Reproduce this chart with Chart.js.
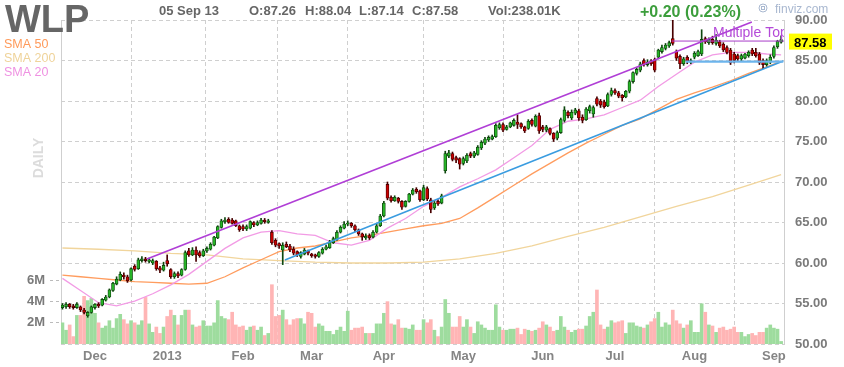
<!DOCTYPE html>
<html>
<head>
<meta charset="utf-8">
<title>WLP daily</title>
<script src="https://cdn.jsdelivr.net/npm/chart.js@4.4.0/dist/chart.umd.min.js"></script>
<style>
html, body { margin: 0; padding: 0; background: #fff; }
#wrap { position: relative; width: 844px; height: 367px; }
</style>
</head>
<body>
<div id="wrap"><canvas id="myChart" width="844" height="367"></canvas></div>
<script>
// daily candles, 19 Nov 2012 .. 05 Sep 2013 (index = trading day)
var opens = [
  54.5,54.6,54.9,54.7,54.5,54.6,54.2,53.5,53.9,54.5, 54.9,54.8,55.4,55.8,56.6,57.4,57.9,58.5,58.3,57.9,
  59.6,59.3,60.3,60.5,60.2,60.0,60.2,59.4,59.1,60.3, 59.2,58.3,58.7,58.5,59.2,61.5,61.0,61.6,61.3,60.9,
  61.5,61.7,62.2,63.1,64.4,65.1,65.4,65.3,65.2,64.6, 64.5,64.2,64.3,65.0,64.7,64.9,65.3,65.0,63.8,62.8,
  62.4,61.6,62.3,62.1,61.7,61.4,60.8,61.1,61.5,61.1, 61.0,60.8,61.2,61.7,61.9,62.5,62.9,63.8,64.3,64.8,
  64.9,64.6,64.1,63.6,63.1,63.4,63.2,63.8,64.6,65.8, 69.7,68.1,67.7,68.0,67.6,67.0,67.6,68.5,69.1,68.9,
  67.8,69.2,67.8,66.8,67.6,67.4,71.4,73.2,73.5,73.0, 72.9,72.3,72.6,73.5,73.2,73.4,74.2,74.8,75.2,75.3,
  75.6,76.7,77.1,76.5,76.8,77.0,77.4,77.2,76.8,76.6, 77.6,76.9,78.2,76.8,76.4,76.6,76.0,75.4,76.1,77.6,
  78.6,77.9,78.5,78.8,78.0,77.7,78.8,78.4,80.3,80.0, 79.9,79.4,80.8,81.3,81.0,80.7,80.5,81.2,82.4,83.4,
  83.8,85.0,84.5,84.9,85.1,85.4,86.1,86.5,86.8,87.7, 86.1,85.5,84.6,85.4,84.8,85.4,85.6,85.8,87.7,87.2,
  87.6,87.1,87.3,87.0,86.6,86.3,85.8,85.6,85.2,85.3, 85.6,86.3,86.0,85.8,85.0,84.5,84.8,85.5,86.7,87.26
];
var highs = [
  55.0,55.1,55.0,54.9,55.1,54.7,54.4,54.0,54.7,55.0, 55.1,55.6,56.0,56.8,57.6,58.3,58.9,58.8,58.5,59.4,
  59.8,60.6,60.8,60.7,60.6,60.5,60.3,59.6,60.1,61.0, 59.3,58.9,58.9,59.3,61.5,61.8,61.9,62.0,61.5,61.7,
  62.0,62.5,63.3,64.6,65.4,65.6,65.6,65.5,65.3,64.7, 64.7,64.7,65.2,65.1,65.2,65.5,65.5,65.4,64.0,63.0,
  62.5,62.5,62.6,62.3,62.0,61.5,61.4,61.8,61.6,61.2, 61.1,61.4,61.9,62.2,62.8,63.2,64.0,64.6,65.1,65.2,
  65.0,64.7,64.2,63.7,63.6,63.6,64.0,64.8,66.0,67.6, 70.0,68.3,68.3,68.1,67.7,67.7,68.6,69.2,69.3,69.0,
  69.6,69.4,68.0,67.6,67.8,68.5,73.8,73.9,73.7,73.2, 73.0,73.1,73.5,73.7,73.8,74.5,75.1,75.5,75.7,75.8,
  77.2,77.3,77.3,77.0,77.4,77.8,78.3,77.3,76.9,77.7, 77.8,78.3,78.5,77.0,77.0,76.7,76.1,76.3,77.9,79.3,
  78.8,78.9,79.1,79.0,78.3,79.2,79.5,79.4,80.5,80.2, 80.1,81.0,81.6,81.5,81.2,80.8,81.3,82.6,83.6,84.1,
  84.8,85.2,85.1,85.1,85.3,86.4,86.9,87.1,87.4,90.2, 86.3,85.7,85.4,85.6,85.2,86.1,86.3,88.8,87.9,87.8,
  88.0,88.2,87.5,87.2,86.8,86.5,86.0,85.8,85.8,85.9, 86.2,86.5,86.5,86.0,85.2,85.2,85.7,86.8,87.5,88.04
];
var lows = [
  54.3,54.4,54.4,54.3,54.4,54.0,53.7,53.3,53.8,54.3, 54.5,54.7,55.3,55.7,56.5,57.3,57.8,58.0,57.6,57.8,
  59.0,59.2,60.1,60.1,60.0,59.8,59.1,58.8,59.0,59.6, 58.1,58.1,58.2,58.4,59.1,60.8,60.9,60.2,60.7,60.8,
  61.3,61.6,62.1,63.0,64.3,64.9,64.9,64.8,64.5,63.9, 64.0,64.0,64.2,64.5,64.6,64.8,64.9,64.9,62.3,62.0,
  61.8,59.8,61.9,61.4,61.0,60.8,60.6,61.0,61.0,60.7, 60.6,60.7,61.1,61.6,61.8,62.4,62.8,63.7,64.2,64.6,
  64.4,63.9,63.4,62.8,62.9,62.9,63.1,63.7,64.5,65.7, 67.8,67.5,67.6,67.4,66.6,66.9,67.5,68.4,68.6,67.6,
  67.7,67.7,66.2,66.6,67.1,67.3,71.1,73.0,72.6,72.4, 71.6,72.1,72.4,73.0,73.0,73.3,74.0,74.6,75.0,75.2,
  75.5,76.5,76.2,76.4,76.7,76.9,76.6,76.6,76.1,76.5, 76.9,76.8,76.0,76.2,76.2,75.8,75.0,75.2,76.0,77.4,
  77.9,77.7,78.3,77.6,77.3,77.6,78.5,78.0,79.4,79.2, 79.1,79.3,80.6,80.8,80.4,80.0,80.4,81.0,82.2,83.2,
  83.6,84.3,84.3,84.4,83.6,85.2,85.9,86.3,86.6,86.9, 85.0,84.0,84.4,84.6,84.6,85.2,85.5,85.6,87.1,87.0,
  87.0,86.9,86.6,86.1,85.8,84.5,84.7,85.0,85.0,85.2, 85.4,85.6,85.4,84.5,84.0,84.3,84.6,85.3,86.5,87.14
];
var closes = [
  54.8,54.9,54.6,54.5,54.9,54.2,53.9,53.9,54.6,54.9, 54.7,55.5,55.8,56.7,57.5,58.0,58.6,58.3,57.8,59.3,
  59.2,60.4,60.5,60.3,60.4,60.3,59.3,59.1,59.7,59.9, 58.3,58.7,58.4,59.2,61.3,61.0,61.6,61.0,60.9,61.5,
  61.8,62.3,63.2,64.5,65.2,65.3,65.0,64.9,64.6,64.1, 64.2,64.5,65.1,64.7,65.0,65.3,65.1,65.2,62.5,62.2,
  62.1,62.2,62.0,61.6,61.2,61.0,61.3,61.6,61.2,60.9, 60.8,61.3,61.7,62.0,62.6,63.0,63.8,64.4,64.8,64.9,
  64.6,64.1,63.6,63.2,63.3,63.1,63.8,64.6,65.8,67.4, 68.0,67.7,68.1,67.6,66.9,67.6,68.5,69.0,68.8,67.8,
  69.3,67.9,66.6,67.4,67.3,68.3,73.5,73.6,72.8,72.7, 72.2,72.9,73.3,73.2,73.6,74.3,74.9,75.3,75.5,75.6,
  77.0,77.1,76.4,76.8,77.3,77.6,77.1,76.8,76.3,77.5, 77.1,78.1,76.3,76.5,76.8,76.0,75.3,76.1,77.7,78.9,
  78.2,78.6,78.9,77.9,77.6,79.0,79.3,79.2,79.6,79.5, 79.3,80.8,81.3,81.0,80.6,80.4,81.2,82.4,83.5,83.9,
  84.6,84.5,84.8,84.6,83.8,86.3,86.6,86.9,87.2,87.1, 85.3,84.6,85.2,84.9,85.0,85.9,86.1,87.6,87.3,87.6,
  87.2,87.5,86.8,86.3,86.0,84.7,85.0,85.2,85.6,85.8, 86.0,85.8,85.6,84.7,84.5,85.0,85.4,86.6,87.4,87.58
];
// volume in millions of shares
var volumes = [
  2.0,1.3,1.8,0.7,2.7,2.7,4.5,4.1,4.3,2.9, 2.0,1.5,1.7,2.2,1.5,2.4,2.8,2.3,1.9,2.2,
  2.0,1.8,2.2,4.4,1.9,1.1,1.6,1.0,1.6,2.6, 3.2,2.7,1.8,2.7,3.2,3.2,1.8,1.6,1.7,2.2,
  1.7,1.7,2.0,4.1,2.6,2.4,2.3,3.0,1.8,1.6, 1.7,1.3,1.6,1.7,1.3,1.6,0.8,1.0,5.6,2.6,
  2.7,3.2,2.3,1.8,2.3,2.4,2.4,1.9,3.0,2.9, 1.6,1.9,1.7,1.2,1.2,0.9,1.3,1.6,1.2,3.1,
  1.3,1.5,1.5,1.6,1.0,1.0,1.0,1.9,1.9,2.9, 4.0,1.9,1.8,2.3,1.5,1.5,1.4,1.8,1.3,1.3,
  2.3,2.0,2.3,1.3,0.7,1.6,4.2,2.9,1.6,1.6, 2.6,1.6,2.3,1.6,1.0,2.1,1.8,1.5,1.3,1.3,
  3.7,1.6,1.3,1.3,1.4,1.4,1.5,0.9,1.4,1.3, 1.2,1.3,1.5,2.1,1.8,1.6,1.2,1.3,2.6,1.6,
  1.3,1.1,1.3,1.4,1.4,1.7,2.6,3.0,5.1,1.8, 1.4,1.6,2.2,2.0,2.1,2.2,1.0,2.0,2.0,1.7,
  1.6,1.5,1.8,2.1,2.4,3.0,1.6,2.0,1.8,3.2, 2.2,1.9,1.5,1.8,2.2,1.1,1.1,3.8,3.0,1.8,
  1.7,1.1,1.5,1.6,1.3,1.4,1.6,1.1,1.1,0.7, 0.9,1.0,0.8,1.1,1.1,1.5,1.8,1.5,1.4,0.24
];

var monthTicks = [9, 29, 50, 69, 89, 111, 133, 153, 175, 197];
var monthLabels = ['Dec', '2013', 'Feb', 'Mar', 'Apr', 'May', 'Jun', 'Jul', 'Aug', 'Sep'];
var priceTicks = [50, 55, 60, 65, 70, 75, 80, 85, 90];
var volTicks = [2, 4, 6];

// moving averages, read every 5 (or 10) trading days
var smaDays = [0,5,10,15,20,25,30,35,40,45,50,55,60,65,70,75,80,85,90,95,100,105,110,115,120,125,130,135,140,145,150,155,160,165,170,175,180,185,190,195,199];
var sma20 = [58.1,56.6,55.1,54.7,55.3,56.2,57.3,58.6,60.2,61.8,63.1,63.8,64.0,63.6,63.4,62.5,62.2,62.8,64.3,65.5,67.0,68.1,69.4,70.4,71.5,73.0,74.5,76.5,77.5,77.8,78.3,79.2,80.1,81.8,83.3,84.8,85.7,86.0,86.0,85.8,85.7];
var sma50 = [58.5,58.3,58.1,57.9,57.7,57.6,57.5,57.4,57.5,58.3,59.4,60.4,61.4,61.85,62.1,62.6,63.1,63.4,63.8,64.2,64.6,64.9,65.5,66.8,68.2,69.6,71.0,72.3,73.6,74.8,75.9,77.0,77.8,79.0,80.2,81.0,81.7,82.5,83.4,84.2,84.9];
var sma200Days = [0,10,20,30,40,50,60,70,80,90,100,110,120,130,140,150,160,170,180,190,199];
var sma200 = [61.85,61.7,61.5,61.2,61.0,60.5,60.3,60.1,60.0,60.0,60.1,60.5,61.2,62.1,63.3,64.4,65.7,67.0,68.2,69.6,70.9];

// drawn trend lines [day, price]
var channelTop = [[23.4, 60.5], [190.9, 89.75]];
var supportLine = [[61.6, 60.37], [199.6, 84.95]];
var topLine = [[168.7, 87.4], [199.8, 87.4]];
var floorLine = [[172.6, 84.85], [199.6, 84.85]];

var FONT = '"Liberation Sans", Arial, sans-serif';

function pts(xs, ys) {
  return xs.map(function (x, i) { return { x: x, y: ys[i] }; });
}
function seg(p) {
  return p.map(function (q) { return { x: q[0], y: q[1] }; });
}
function lineSet(data, color, width, order) {
  return {
    type: 'line', data: data, borderColor: color, borderWidth: width,
    pointRadius: 0, fill: false, tension: 0, yAxisID: 'y', order: order
  };
}

var up = closes.map(function (c, i) { return c >= opens[i]; });
var bodies = closes.map(function (c, i) { return { x: i, y: [opens[i], c] }; });
var wicks = closes.map(function (c, i) { return { x: i, y: [lows[i], highs[i]] }; });
var vols = volumes.map(function (v, i) { return { x: i, y: v }; });

var overlay = {
  id: 'overlay',
  afterDraw: function (chart) {
    var c = chart.ctx, a = chart.chartArea, ys = chart.scales.y;
    c.save();
    c.textBaseline = 'alphabetic';
    c.textAlign = 'left';

    c.fillStyle = '#666';
    c.font = 'bold 38px ' + FONT;
    c.fillText('WLP', 5, 32);

    c.font = 'bold 13px ' + FONT;
    c.fillText('05 Sep 13', 159, 15);
    c.fillText('O:87.26', 249, 15);
    c.fillText('H:88.04', 305, 15);
    c.fillText('L:87.14', 359, 15);
    c.fillText('C:87.58', 412, 15);
    c.fillText('Vol:238.01K', 488, 15);

    c.fillStyle = '#3c9e3c';
    c.font = 'bold 16px ' + FONT;
    c.fillText('+0.20 (0.23%)', 640, 17);

    c.strokeStyle = '#a9b8d0';
    c.lineWidth = 1;
    c.beginPath();
    c.arc(763, 8, 4, 0, Math.PI * 2);
    c.stroke();
    c.strokeRect(761.5, 6.5, 3, 3);
    c.fillStyle = '#a9b8d0';
    c.font = '12px ' + FONT;
    c.fillText('finviz.com', 775, 13);

    c.font = '12.5px ' + FONT;
    c.fillStyle = '#ff9a5a';
    c.fillText('SMA 50', 4, 48);
    c.fillStyle = '#efd39a';
    c.fillText('SMA 200', 4, 62);
    c.fillStyle = '#ef92e2';
    c.fillText('SMA 20', 4, 76);

    c.save();
    c.translate(43, 158);
    c.rotate(-Math.PI / 2);
    c.textAlign = 'center';
    c.fillStyle = '#dcdcdc';
    c.font = 'bold 14px ' + FONT;
    c.fillText('DAILY', 0, 0);
    c.restore();

    c.save();
    c.beginPath();
    c.rect(a.left, a.top, a.right - a.left, a.bottom - a.top);
    c.clip();
    c.fillStyle = '#b44ad8';
    c.font = '14px ' + FONT;
    c.fillText('Multiple Top', 713, 37);
    c.restore();

    var last = closes[closes.length - 1];
    var py = ys.getPixelForValue(last);
    c.fillStyle = '#ffff00';
    c.fillRect(789, py - 6, 43, 16);
    c.fillStyle = '#000';
    c.font = 'bold 13px ' + FONT;
    c.fillText(last.toFixed(2), 794, py + 7);
    c.restore();
  }
};

var ctx = document.getElementById('myChart').getContext('2d');
var myChart = new Chart(ctx, {
  type: 'bar',
  data: {
    datasets: [
      {
        data: vols, yAxisID: 'vol', grouped: false, barThickness: 3, order: 10,
        backgroundColor: up.map(function (u) { return u ? '#9edc9e' : '#ffb5b5'; })
      },
      lineSet(pts(sma200Days, sma200), '#f1d59c', 1.3, 9),
      lineSet(pts(smaDays, sma50), '#ff9c5e', 1.3, 8),
      lineSet(pts(smaDays, sma20), '#f29be5', 1.3, 7),
      {
        data: wicks, yAxisID: 'y', grouped: false, barThickness: 1, order: 6,
        backgroundColor: up.map(function (u) { return u ? '#0e470e' : '#470000'; })
      },
      {
        data: bodies, yAxisID: 'y', grouped: false, barThickness: 3, order: 5,
        minBarLength: 1, borderSkipped: false, borderWidth: 0.8,
        backgroundColor: up.map(function (u) { return u ? '#27b427' : '#c80000'; }),
        borderColor: up.map(function (u) { return u ? '#0e470e' : '#470000'; })
      },
      lineSet(seg(channelTop), '#b03ed6', 1.6, 2),
      lineSet(seg(supportLine), '#3a9ce0', 1.6, 2),
      lineSet(seg(topLine), '#a83cc8', 1, 1),
      lineSet(seg(floorLine), '#6cb4ec', 2.2, 1)
    ]
  },
  options: {
    responsive: false,
    animation: false,
    events: [],
    layout: { padding: { top: 20, left: 0, right: 0, bottom: 0 } },
    plugins: { legend: { display: false }, tooltip: { enabled: false } },
    scales: {
      x: {
        type: 'linear', min: -0.4, max: 199.8, offset: false,
        afterBuildTicks: function (s) { s.ticks = monthTicks.map(function (v) { return { value: v }; }); },
        afterFit: function (s) { s.height = 23; },
        grid: { color: '#cfcfcf', borderDash: [4, 3], drawTicks: false },
        border: { display: false, dash: [4, 3] },
        ticks: {
          autoSkip: false, maxRotation: 0, padding: 5, color: '#858585',
          font: { family: FONT, size: 13, weight: 'bold' },
          callback: function (v, i) { return monthLabels[i]; }
        }
      },
      y: {
        position: 'right', min: 50, max: 90,
        afterBuildTicks: function (s) { s.ticks = priceTicks.map(function (v) { return { value: v }; }); },
        afterFit: function (s) { s.width = 60; },
        grid: { color: '#cfcfcf', drawTicks: false },
        border: { display: true, color: '#cfcfcf', dash: [4, 3] },
        ticks: {
          padding: 11, color: '#7a7a7a',
          font: { family: FONT, size: 13, weight: 'bold' },
          callback: function (v) { return v.toFixed(2); }
        }
      },
      vol: {
        position: 'left', min: 0, max: 30.6,
        afterBuildTicks: function (s) { s.ticks = volTicks.map(function (v) { return { value: v }; }); },
        afterFit: function (s) { s.width = 61; },
        grid: { drawOnChartArea: false, drawTicks: true, tickLength: 11, tickColor: '#bbbbbb', tickBorderDash: [3, 3] },
        border: { display: true, color: '#cfcfcf', dash: [4, 3] },
        ticks: {
          padding: 5, color: '#7a7a7a',
          font: { family: FONT, size: 13, weight: 'bold' },
          callback: function (v) { return v + 'M'; }
        }
      }
    }
  },
  plugins: [overlay]
});
</script>
</body>
</html>
